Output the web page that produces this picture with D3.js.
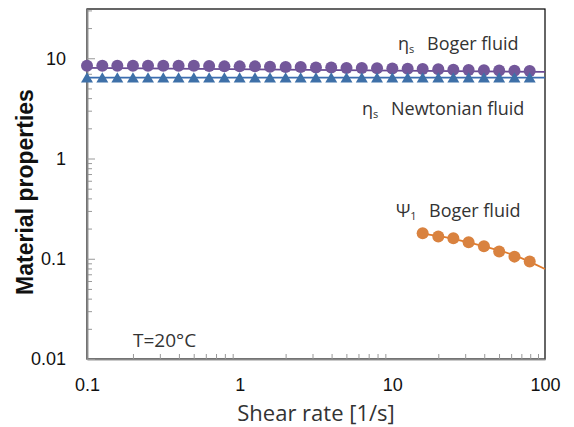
<!DOCTYPE html>
<html>
<head>
<meta charset="utf-8">
<script src="https://cdn.jsdelivr.net/npm/d3@7"></script>
<style>
  body { margin: 0; background: #fff; }
  text { font-family: "Open Sans", "Liberation Sans", sans-serif; }
</style>
</head>
<body>
<script>
// shear rates of the measured points [1/s]
var shearRate = [0.1, 0.126, 0.158, 0.2, 0.251, 0.316, 0.398, 0.501, 0.631, 0.794,
                 1, 1.26, 1.58, 2, 2.51, 3.16, 3.98, 5.01, 6.31, 7.94,
                 10, 12.6, 15.8, 20, 25.1, 31.6, 39.8, 50.1, 63.1, 79.4];
// eta_s Boger fluid
var etaBoger = [8.4, 8.4, 8.4, 8.4, 8.4, 8.4, 8.4, 8.4, 8.35, 8.3,
                8.3, 8.3, 8.25, 8.2, 8.2, 8.1, 8.1, 8.0, 8.0, 7.95,
                7.9, 7.85, 7.8, 7.75, 7.7, 7.65, 7.6, 7.55, 7.5, 7.45];
// eta_s Newtonian fluid
var etaNewton = [6.2, 6.2, 6.2, 6.2, 6.2, 6.2, 6.2, 6.2, 6.2, 6.2,
                 6.2, 6.2, 6.2, 6.2, 6.2, 6.2, 6.2, 6.2, 6.2, 6.2,
                 6.2, 6.2, 6.2, 6.2, 6.2, 6.2, 6.2, 6.2, 6.2, 6.2];
// Psi_1 Boger fluid
var psiRate = [15.8, 20, 25.1, 31.6, 39.8, 50.1, 63.1, 79.4];
var psiBoger = [0.180, 0.167, 0.160, 0.146, 0.133, 0.118, 0.105, 0.094];

// fitted lines
var bogerFitX = [0.1, 100], bogerFitY = [8.0, 7.3];
var newtonFitX = [0.1, 100], newtonFitY = [6.4, 6.4];
var psiFitX = [15.8, 25.1, 39.8, 63.1, 100], psiFitY = [0.178, 0.158, 0.133, 0.108, 0.079];

var xTicks = [0.1, 1, 10, 100];
var yTicks = [0.01, 0.1, 1, 10];

var width = 574, height = 427;
var plot = {left: 87, right: 545, top: 9, bottom: 359};

var svg = d3.select("body").append("svg")
    .attr("width", width)
    .attr("height", height);

var xScale = d3.scaleLog().domain([0.1, 100]).range([plot.left, plot.right]);
var yScale = d3.scaleLog().domain([0.01, 31]).range([plot.bottom, plot.top]);

// minor ticks 2..9 of every decade
var xMinor = [], yMinor = [];
[0.1, 1, 10].forEach(function(d) {
    for (var m = 2; m <= 9; m++) xMinor.push(d * m);
});
[0.01, 0.1, 1, 10].forEach(function(d) {
    for (var m = 2; m <= 9; m++) if (d * m <= 31) yMinor.push(d * m);
});

// plot area frame
svg.append("rect")
    .attr("x", plot.left).attr("y", plot.top)
    .attr("width", plot.right - plot.left)
    .attr("height", plot.bottom - plot.top)
    .attr("fill", "none")
    .attr("stroke", "#000")
    .attr("stroke-width", 1.2);

// x axis: minor ticks pointing inwards
svg.append("g")
    .attr("transform", "translate(0," + plot.bottom + ")")
    .call(d3.axisBottom(xScale).tickValues(xMinor).tickSizeInner(-5).tickSizeOuter(0).tickFormat(""));
svg.append("g")
    .attr("transform", "translate(0," + plot.bottom + ")")
    .call(d3.axisBottom(xScale).tickValues(xTicks).tickSizeInner(0).tickSizeOuter(0)
        .tickPadding(19).tickFormat(function(d) { return String(d); }));

// y axis
svg.append("g")
    .attr("transform", "translate(" + plot.left + ",0)")
    .call(d3.axisLeft(yScale).tickValues(yMinor).tickSizeInner(-5).tickSizeOuter(0).tickFormat(""));
svg.append("g")
    .attr("transform", "translate(" + plot.left + ",0)")
    .call(d3.axisLeft(yScale).tickValues(yTicks).tickSizeInner(-8).tickSizeOuter(0)
        .tickPadding(21).tickFormat(function(d) { return String(d); }));

svg.selectAll(".domain").attr("stroke", "#888").attr("stroke-width", 1.5);
svg.selectAll(".tick line").attr("stroke", "#999");
svg.selectAll(".tick text")
    .attr("fill", "#111")
    .style("font-family", "'Liberation Sans', Arial, sans-serif")
    .style("font-size", "18px");

var lineGen = d3.line()
    .x(function(d) { return xScale(d[0]); })
    .y(function(d) { return yScale(d[1]); });

var lineGenCurve = d3.line()
    .x(function(d) { return xScale(d[0]); })
    .y(function(d) { return yScale(d[1]); })
    .curve(d3.curveMonotoneX);

// fitted lines
svg.append("path")
    .attr("d", lineGen(d3.zip(bogerFitX, bogerFitY)))
    .attr("fill", "none").attr("stroke", "#6a4a93").attr("stroke-width", 1.8);
svg.append("path")
    .attr("d", lineGen(d3.zip(newtonFitX, newtonFitY)))
    .attr("fill", "none").attr("stroke", "#3b6db0").attr("stroke-width", 1.8);
svg.append("path")
    .attr("d", lineGenCurve(d3.zip(psiFitX, psiFitY)))
    .attr("fill", "none").attr("stroke", "#e07b2c").attr("stroke-width", 1.8);

// eta_s Boger: circles
svg.append("g").selectAll("circle")
    .data(d3.zip(shearRate, etaBoger))
    .join("circle")
    .attr("cx", function(d) { return xScale(d[0]); })
    .attr("cy", function(d) { return yScale(d[1]); })
    .attr("r", 6)
    .attr("fill", "#73579a");

// eta_s Newtonian: triangles
var tri = d3.symbol().type(d3.symbolTriangle).size(62);
svg.append("g").selectAll("path")
    .data(d3.zip(shearRate, etaNewton))
    .join("path")
    .attr("d", tri)
    .attr("transform", function(d) {
        return "translate(" + xScale(d[0]) + "," + yScale(d[1]) + ")";
    })
    .attr("fill", "#3e70a8");

// Psi_1 Boger: circles
svg.append("g").selectAll("circle")
    .data(d3.zip(psiRate, psiBoger))
    .join("circle")
    .attr("cx", function(d) { return xScale(d[0]); })
    .attr("cy", function(d) { return yScale(d[1]); })
    .attr("r", 6)
    .attr("fill", "#d9823f");

// annotations: symbol, subscript, then the name
function label(x, y, sym, sub, restX, rest) {
    var g = svg.append("g").attr("fill", "#333");
    var t = g.append("text").attr("x", x).attr("y", y).style("font-size", "18px");
    t.append("tspan").text(sym);
    t.append("tspan").text(sub).attr("dy", 3).style("font-size", "11px");
    g.append("text").attr("x", restX).attr("y", y).style("font-size", "18px").text(rest);
}
label(398, 50, "\u03b7", "s", 427, "Boger fluid");
label(362, 115, "\u03b7", "s", 391, "Newtonian fluid");
label(396, 217, "\u03a8", "1", 429, "Boger fluid");

svg.append("text")
    .attr("x", 133).attr("y", 347)
    .attr("fill", "#333")
    .style("font-size", "19px")
    .text("T=20\u00b0C");

// axis titles
svg.append("text")
    .attr("x", 316)
    .attr("y", 421)
    .attr("text-anchor", "middle")
    .attr("fill", "#333")
    .style("font-size", "22px")
    .text("Shear rate [1/s]");

svg.append("text")
    .attr("transform", "translate(33,192) rotate(-90)")
    .attr("text-anchor", "middle")
    .attr("fill", "#111")
    .style("font-family", "'Liberation Sans', Arial, sans-serif")
    .style("font-weight", "bold")
    .style("font-size", "23px")
    .text("Material properties");
</script>
</body>
</html>
